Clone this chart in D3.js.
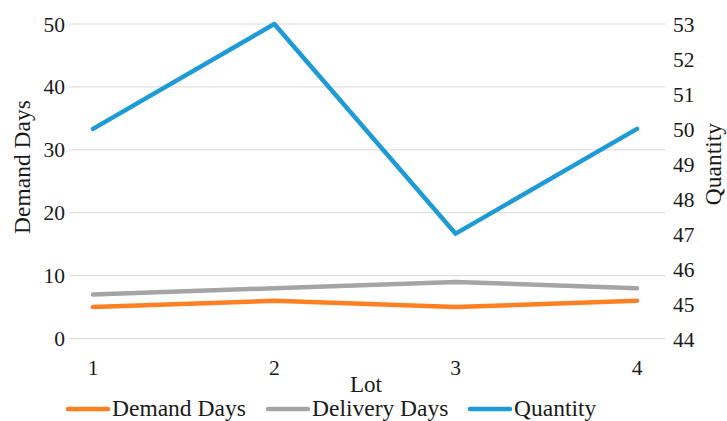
<!DOCTYPE html>
<html><head><meta charset="utf-8">
<script src="https://cdn.jsdelivr.net/npm/d3@7"></script>
<style>
html,body{margin:0;padding:0;background:#fff;}
svg text{font-family:"Liberation Serif","Times New Roman",serif;fill:#1a1a1a;}
</style></head>
<body><svg id="c" width="727" height="421"></svg>
<script>
const lots = ["1","2","3","4"];
const demandDays = [5,6,5,6];
const deliveryDays = [7,8,9,8];
const quantity = [50,53,47,50];
const leftTicks = [0,10,20,30,40,50];
const rightTicks = [44,45,46,47,48,49,50,51,52,53];

const svg = d3.select("#c");
const plot = {left:69, right:665, top:24, bottom:338.5};
const x = d3.scalePoint().domain(lots).range([93,637]);
const yL = d3.scaleLinear().domain([0,50]).range([plot.bottom, plot.top]);
const yR = d3.scaleLinear().domain([44,53]).range([plot.bottom, plot.top]);

// gridlines
svg.append("g").selectAll("line").data(leftTicks).join("line")
  .attr("x1",plot.left).attr("x2",plot.right)
  .attr("y1",d=>yL(d)).attr("y2",d=>yL(d))
  .attr("stroke","#d9d9d9").attr("stroke-width",1);

// left axis labels
svg.append("g").selectAll("text").data(leftTicks).join("text")
  .attr("x",65).attr("y",d=>yL(d)).attr("dy","0.35em")
  .attr("text-anchor","end").attr("font-size",21.5).text(d=>d);

// right axis labels
svg.append("g").selectAll("text").data(rightTicks).join("text")
  .attr("x",673).attr("y",d=>yR(d)).attr("dy","0.38em")
  .attr("text-anchor","start").attr("font-size",21.5).text(d=>d);

// x labels
svg.append("g").selectAll("text").data(lots).join("text")
  .attr("x",d=>x(d)).attr("y",375)
  .attr("text-anchor","middle").attr("font-size",21.5).text(d=>d);

// axis titles
svg.append("text").attr("transform","translate(30,167) rotate(-90)")
  .attr("text-anchor","middle").attr("font-size",23.5).text("Demand Days");
svg.append("text").attr("transform","translate(721,164) rotate(-90)")
  .attr("text-anchor","middle").attr("font-size",23.5).text("Quantity");
svg.append("text").attr("x",366).attr("y",392)
  .attr("text-anchor","middle").attr("font-size",23).text("Lot");

const series = [
  {name:"Demand Days", values:demandDays, color:"#FF8022", y:yL},
  {name:"Delivery Days", values:deliveryDays, color:"#A5A5A5", y:yL},
  {name:"Quantity", values:quantity, color:"#1E9BD7", y:yR}
];

series.forEach(s=>{
  const line = d3.line().x((d,i)=>x(lots[i])).y(d=>s.y(d));
  svg.append("path").datum(s.values).attr("d",line)
    .attr("fill","none").attr("stroke",s.color).attr("stroke-width",4.5)
    .attr("stroke-linecap","round").attr("stroke-linejoin","round");
});

// legend
const legendX = [68,268,470];
const lg = svg.append("g");
series.forEach((s,i)=>{
  lg.append("line").attr("x1",legendX[i]).attr("x2",legendX[i]+40)
    .attr("y1",409).attr("y2",409).attr("stroke",s.color).attr("stroke-width",4.5)
    .attr("stroke-linecap","round");
  lg.append("text").attr("x",legendX[i]+44).attr("y",416)
    .attr("font-size",23.5).text(s.name);
});
</script></body></html>
